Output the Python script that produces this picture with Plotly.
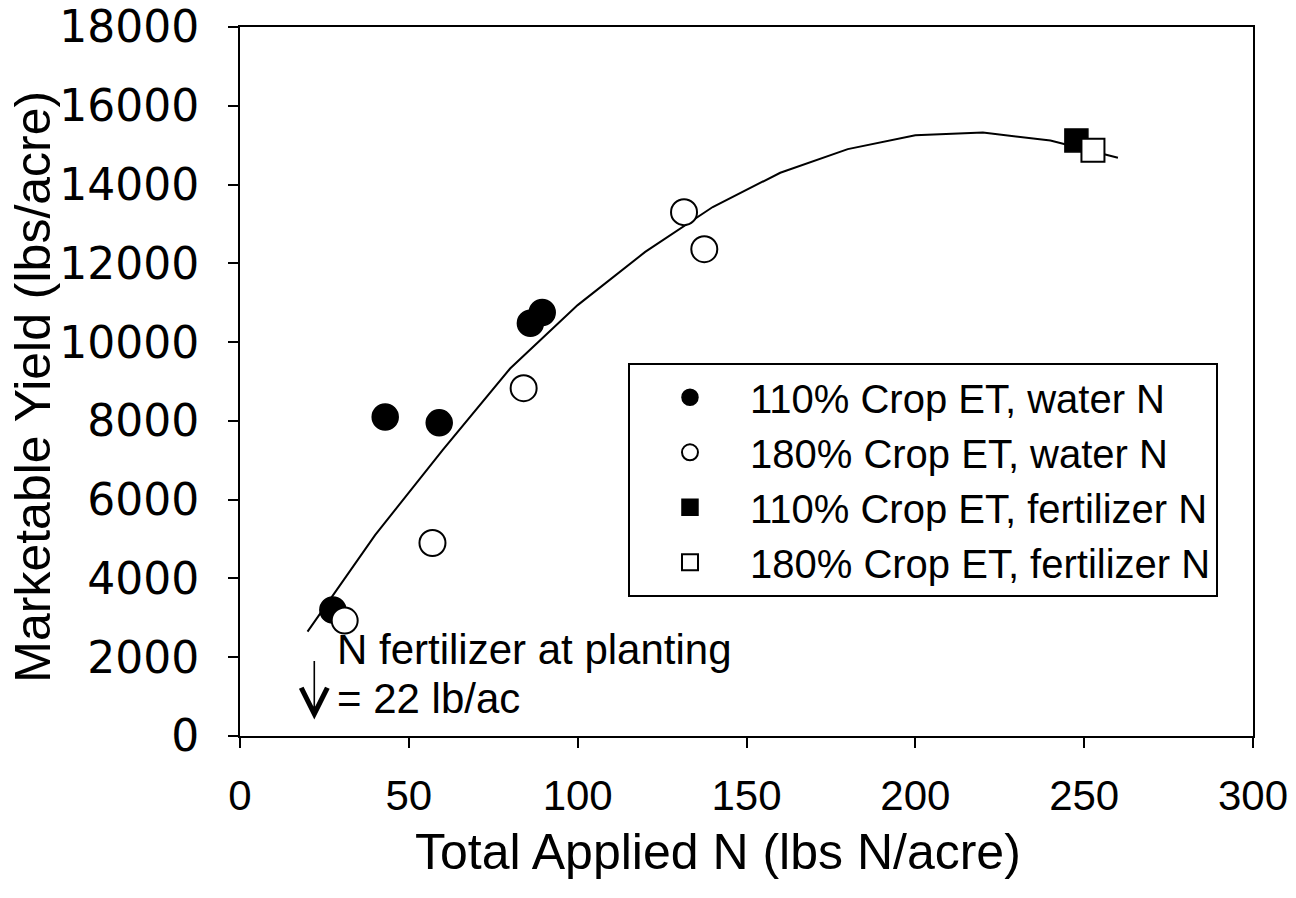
import plotly.graph_objects as go

# Fitted response curve (total applied N vs. marketable yield)
fit_n = [20, 40, 60, 80, 100, 120, 140, 160, 180, 200, 220, 240, 260]
fit_yield = [2650, 5100, 7260, 9330, 10940, 12290, 13430, 14300, 14900, 15250, 15320, 15120, 14680]

# 110% Crop ET, water N
et110_water_n = [27.5, 43, 59, 86, 89.5]
et110_water_yield = [3200, 8100, 7950, 10480, 10750]

# 180% Crop ET, water N
et180_water_n = [31, 57, 84, 131.5, 137.5]
et180_water_yield = [2930, 4900, 8830, 13300, 12360]

# Fertilizer N treatments
et110_fert_n = [247.7]
et110_fert_yield = [15120]
et180_fert_n = [252.6]
et180_fert_yield = [14870]

planting_n = 22

x_ticks = [0, 50, 100, 150, 200, 250, 300]
y_ticks = list(range(0, 18001, 2000))

FONT = "Liberation Sans, Arial, sans-serif"

fig = go.Figure()

fig.add_trace(go.Scatter(
    x=fit_n, y=fit_yield, mode="lines",
    line=dict(color="black", width=2), showlegend=False, hoverinfo="skip",
))
fig.add_trace(go.Scatter(
    x=et110_water_n, y=et110_water_yield, mode="markers",
    name="110% Crop ET, water N",
    marker=dict(symbol="circle", size=26, color="black", line=dict(color="black", width=1.5)),
))
fig.add_trace(go.Scatter(
    x=et180_water_n, y=et180_water_yield, mode="markers",
    name="180% Crop ET, water N",
    marker=dict(symbol="circle", size=26, color="white", line=dict(color="black", width=2)),
))
fig.add_trace(go.Scatter(
    x=et110_fert_n, y=et110_fert_yield, mode="markers",
    name="110% Crop ET, fertilizer N",
    marker=dict(symbol="square", size=23, color="black", line=dict(color="black", width=1.5)),
))
fig.add_trace(go.Scatter(
    x=et180_fert_n, y=et180_fert_yield, mode="markers",
    name="180% Crop ET, fertilizer N",
    marker=dict(symbol="square", size=23, color="white", line=dict(color="black", width=2)),
))

# Arrow marking the N applied at planting
fig.add_annotation(
    x=planting_n, y=420, ax=planting_n, ay=1940, axref="x", ayref="y",
    xref="x", yref="y", text="", showarrow=True,
    arrowhead=5, arrowsize=3.2, arrowwidth=1.6, arrowcolor="black", standoff=0,
)
fig.add_annotation(
    x=28, y=2190, xref="x", yref="y", xanchor="left", yanchor="middle",
    text="N fertilizer at planting", showarrow=False,
    font=dict(family=FONT, size=42, color="black"),
)
fig.add_annotation(
    x=28, y=950, xref="x", yref="y", xanchor="left", yanchor="middle",
    text="= %d lb/ac" % planting_n, showarrow=False,
    font=dict(family=FONT, size=42, color="black"),
)

# Axis titles
fig.add_annotation(
    x=0.472, y=-0.163, xref="paper", yref="paper", xanchor="center", yanchor="middle",
    text="Total Applied N (lbs N/acre)", showarrow=False,
    font=dict(family=FONT, size=50, color="black"),
)
fig.add_annotation(
    x=-0.2044, y=0.4926, xref="paper", yref="paper", xanchor="center", yanchor="middle",
    text="Marketable Yield (lbs/acre)", textangle=-90, showarrow=False,
    font=dict(family=FONT, size=50, color="black"),
)

fig.update_layout(
    width=1296, height=898,
    margin=dict(l=240, r=43, t=27, b=161.5, autoexpand=False),
    paper_bgcolor="white", plot_bgcolor="white",
    font=dict(family=FONT, color="black"),
    showlegend=True,
    legend=dict(
        x=0.383, y=0.5264, xanchor="left", yanchor="top",
        bgcolor="white", bordercolor="black", borderwidth=2,
        font=dict(family=FONT, size=40, color="black"),
        itemwidth=110, tracegroupgap=0,
    ),
    xaxis=dict(
        range=[0, 300], tickvals=x_ticks, ticktext=[str(v) for v in x_ticks],
        showgrid=False, zeroline=False,
        showline=True, linecolor="black", linewidth=2, mirror=True,
        ticks="outside", ticklen=10, tickwidth=1.5, tickcolor="black",
        tickfont=dict(family=FONT, size=42, color="black"),
        ticklabelstandoff=12,
    ),
    yaxis=dict(
        range=[0, 18000], tickvals=y_ticks, ticktext=[str(v) for v in y_ticks],
        showgrid=False, zeroline=False,
        showline=True, linecolor="black", linewidth=2, mirror=True,
        ticks="outside", ticklen=10, tickwidth=1.5, tickcolor="black",
        tickfont=dict(family="DejaVu Sans, sans-serif", size=44, color="black"),
        ticklabelstandoff=20,
    ),
)

fig.write_html("out.html")
